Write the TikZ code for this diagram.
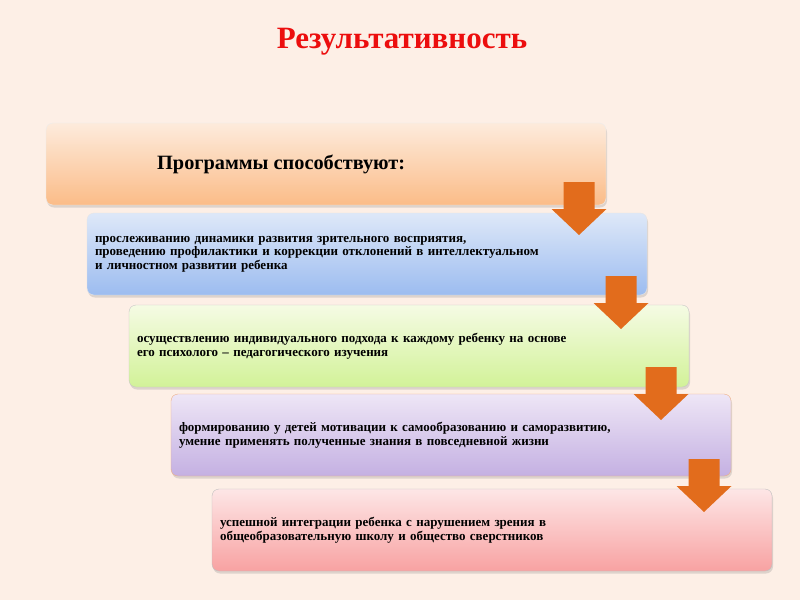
\documentclass[tikz,border=0pt]{standalone}
\usepackage{fontspec}
\setmainfont{Liberation Serif}
\definecolor{bgpeach}{RGB}{253,239,230}
\definecolor{titred}{RGB}{236,14,14}
\definecolor{arrorange}{RGB}{226,108,28}
\definecolor{orgtop}{RGB}{253,235,220}
\definecolor{orgbot}{RGB}{251,188,136}
\definecolor{blutop}{RGB}{222,232,248}
\definecolor{blubot}{RGB}{156,188,240}
\definecolor{grntop}{RGB}{245,251,228}
\definecolor{grnbot}{RGB}{210,242,152}
\definecolor{purtop}{RGB}{238,230,246}
\definecolor{purbot}{RGB}{196,176,226}
\definecolor{redtop}{RGB}{253,230,230}
\definecolor{redbot}{RGB}{248,162,162}
\usetikzlibrary{shadows}

\begin{document}
\begin{tikzpicture}[x=1pt, y=-1pt,
  bx/.style={rounded corners=7pt, minimum width=560pt, minimum height=82pt, text width=544pt,
    inner xsep=8pt, align=left, line width=0.4pt,
    drop shadow={opacity=0.25, shadow xshift=1pt, shadow yshift=-2.5pt},
    font=\fontsize{13}{13.5}\selectfont\bfseries},
  arr/.style={fill=arrorange}]
% background
\fill[bgpeach] (0,0) rectangle (800,600);
\useasboundingbox (0,0) rectangle (800,600);
\node[font=\fontsize{31}{34}\selectfont\bfseries, text=titred] (title) at (402,42) {Результативность};
% steps
\node[bx, draw=white!85!gray, top color=orgtop, bottom color=orgbot] (prog) at (326,164) {};
\node[font=\fontsize{20.3}{24}\selectfont\bfseries, anchor=west, inner sep=0pt] (progtxt) at (157,164) {Программы способствуют:};
\node[bx, draw=white!80!gray, top color=blutop, bottom color=blubot] (track) at (367,254)
  {прослеживанию динамики развития зрительного восприятия,\\
   проведению профилактики и коррекции отклонений в интеллектуальном\\
   и личностном развитии ребенка};
\node[bx, draw=gray!45, top color=grntop, bottom color=grnbot] (indiv) at (409,346)
  {осуществлению индивидуального подхода к каждому ребенку на основе\\
   его психолого -- педагогического изучения};
\node[bx, draw=arrorange!55, top color=purtop, bottom color=purbot] (motiv) at (451,435)
  {формированию у детей мотивации к самообразованию и саморазвитию,\\
   умение применять полученные знания в повседневной жизни};
\node[bx, draw=gray!50, top color=redtop, bottom color=redbot] (integr) at (492,530)
  {успешной интеграции ребенка с нарушением зрения в\\
   общеобразовательную школу и общество сверстников};
% arrows
\foreach \x/\y in {579/182, 621/276, 661/367, 704/459}
  \fill[arr] (\x-15.5,\y) -- ++(31,0) -- ++(0,27) -- ++(12,0) -- (\x,\y+53) -- (\x-27.5,\y+27) -- ++(12,0) -- cycle;
\end{tikzpicture}
\end{document}
